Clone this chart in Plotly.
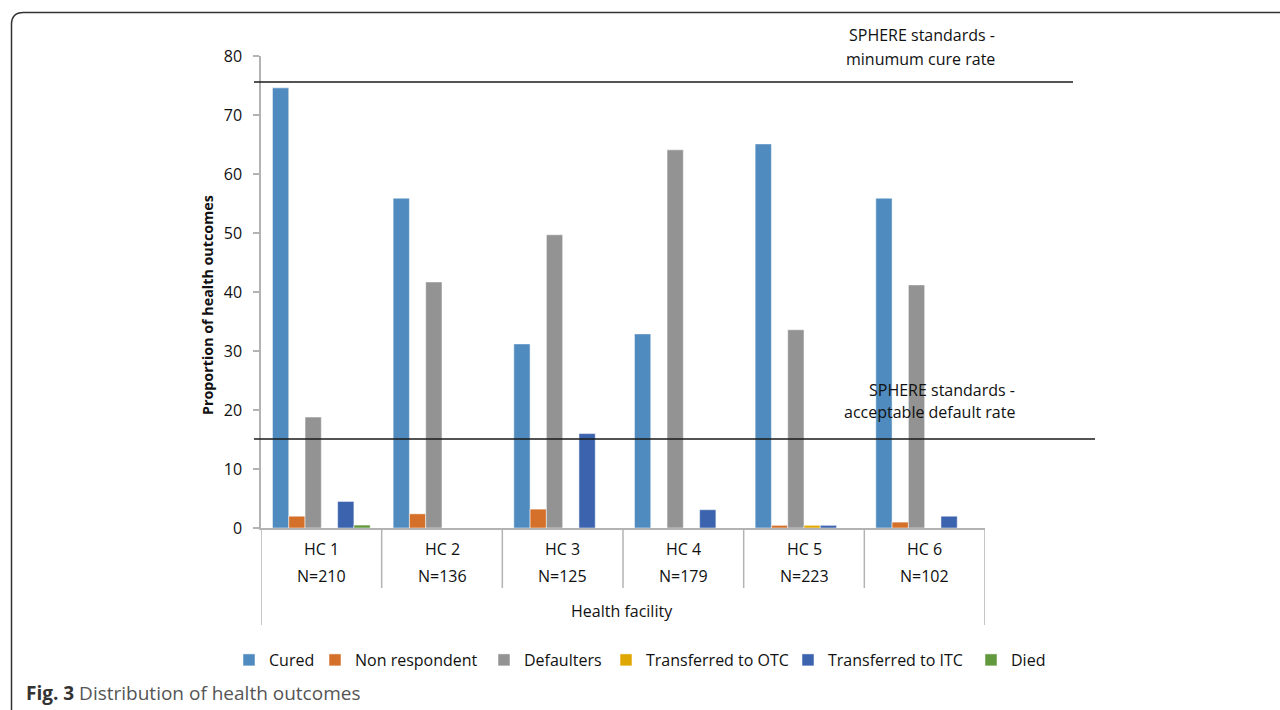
import plotly.graph_objects as go

categories = ["HC 1", "HC 2", "HC 3", "HC 4", "HC 5", "HC 6"]
sample_sizes = ["N=210", "N=136", "N=125", "N=179", "N=223", "N=102"]

cured = [74.6, 55.9, 31.2, 32.9, 65.1, 55.9]
non_respondent = [2.0, 2.4, 3.2, 0.0, 0.45, 1.0]
defaulters = [18.8, 41.7, 49.7, 64.1, 33.6, 41.2]
transferred_otc = [0.0, 0.0, 0.0, 0.0, 0.45, 0.0]
transferred_itc = [4.5, 0.0, 16.0, 3.1, 0.45, 2.0]
died = [0.5, 0.0, 0.0, 0.0, 0.0, 0.0]

series_names = ["Cured", "Non respondent", "Defaulters", "Transferred to OTC", "Transferred to ITC", "Died"]
series_values = [cured, non_respondent, defaulters, transferred_otc, transferred_itc, died]
series_colors = ["#508bbf", "#d5702b", "#939393", "#e0a700", "#3c64ae", "#62993f"]
legend_symbol_centers = [255, 341, 510, 632, 814, 997]

min_cure_rate = 75.6
acceptable_default_rate = 15.1
y_ticks = [0, 10, 20, 30, 40, 50, 60, 70, 80]

W, H = 1280, 710
PL, PR, PT, PB = 261, 985, 56, 528


def px(x):
    return (x - PL) / (PR - PL)


def py(y):
    return (PB - y) / (PB - PT)


FONT = "Open Sans"
TXT = dict(family=FONT, size=16, color="#111")

fig = go.Figure()
legend_layouts = {}
for k, (name, vals, col, cx) in enumerate(zip(series_names, series_values, series_colors, legend_symbol_centers)):
    key = "legend" if k == 0 else f"legend{k + 1}"
    fig.add_trace(go.Bar(
        name=name, x=categories, y=vals, legend=key,
        marker=dict(color=col, line=dict(color="rgba(255,255,255,0.5)", width=1)),
    ))
    legend_layouts[key] = dict(x=px(cx - 26), xanchor="left", y=py(660), yanchor="middle",
                               font=TXT, itemwidth=30, bgcolor="rgba(0,0,0,0)", borderwidth=0)

shapes = []
shapes.append(dict(type="line", xref="paper", yref="y", x0=px(254), x1=px(1073),
                   y0=min_cure_rate, y1=min_cure_rate, line=dict(color="#1a1a1a", width=1.5)))
shapes.append(dict(type="line", xref="paper", yref="y", x0=px(254), x1=px(1095),
                   y0=acceptable_default_rate, y1=acceptable_default_rate,
                   line=dict(color="#1a1a1a", width=1.5)))
n = len(categories)
for i in range(n + 1):
    bottom = 625 if i in (0, n) else 588
    shapes.append(dict(type="line", xref="x", yref="paper", x0=i - 0.5, x1=i - 0.5,
                       y0=py(528), y1=py(bottom), line=dict(color="#b3b3b3", width=1.5)))
r = 12
frame_path = (f"M {px(11.5)},{py(712)} L {px(11.5)},{py(12.5 + r)} "
              f"Q {px(11.5)},{py(12.5)} {px(11.5 + r)},{py(12.5)} L {px(1282)},{py(12.5)}")
shapes.append(dict(type="path", xref="paper", yref="paper", path=frame_path,
                   line=dict(color="#333333", width=1.5)))

annotations = []
for c, nn in zip(categories, sample_sizes):
    annotations.append(dict(x=c, y=py(549), xref="x", yref="paper", text=c, showarrow=False,
                            font=TXT, yanchor="middle"))
    annotations.append(dict(x=c, y=py(576), xref="x", yref="paper", text=nn, showarrow=False,
                            font=TXT, yanchor="middle"))
annotations.append(dict(x=px(622), y=py(611), xref="paper", yref="paper", text="Health facility",
                        showarrow=False, font=TXT, yanchor="middle"))
annotations.append(dict(x=px(997), y=py(35), xref="paper", yref="paper",
                        text="SPHERE standards -", showarrow=False, font=TXT, yanchor="middle"))
annotations.append(dict(x=px(997), y=py(59), xref="paper", yref="paper",
                        text="minumum cure rate", showarrow=False, font=TXT, yanchor="middle"))
annotations.append(dict(x=px(1017), y=py(390), xref="paper", yref="paper",
                        text="SPHERE standards -", showarrow=False, font=TXT, yanchor="middle"))
annotations.append(dict(x=px(1017), y=py(412), xref="paper", yref="paper",
                        text="acceptable default rate", showarrow=False, font=TXT, yanchor="middle"))
annotations.append(dict(x=px(207), y=py(305), xref="paper", yref="paper",
                        text="<b>Proportion of health outcomes</b>", textangle=-90, showarrow=False,
                        font=dict(family=FONT, size=14.3, color="#111"), xanchor="center", yanchor="middle"))
annotations.append(dict(x=px(24), y=py(693), xref="paper", yref="paper", xanchor="left",
                        text="<b><span style='color:#333'>Fig. 3</span></b> Distribution of health outcomes",
                        showarrow=False, font=dict(family=FONT, size=19, color="#555"), yanchor="middle"))

fig.update_layout(
    width=W, height=H,
    margin=dict(l=PL, r=W - PR, t=PT, b=H - PB, pad=0),
    paper_bgcolor="white", plot_bgcolor="white",
    barmode="group", bargap=0.19, bargroupgap=0,
    font=TXT,
    showlegend=True,
    shapes=shapes, annotations=annotations,
    **legend_layouts,
)
fig.update_xaxes(showticklabels=False, showline=True, linecolor="#b3b3b3", linewidth=1.5,
                 ticks="", showgrid=False, zeroline=False, range=[-0.5, n - 0.5])
fig.update_yaxes(range=[0, 80], tickvals=y_ticks, showline=True, linecolor="#b3b3b3", linewidth=1.5,
                 ticks="outside", ticklen=6, tickcolor="#b3b3b3", tickwidth=1.5, showgrid=False,
                 zeroline=False, tickfont=TXT, ticklabelstandoff=8)

fig.write_html("out.html", config={"displayModeBar": False},
               post_script="document.body.style.margin='0';document.body.style.overflow='hidden';")
